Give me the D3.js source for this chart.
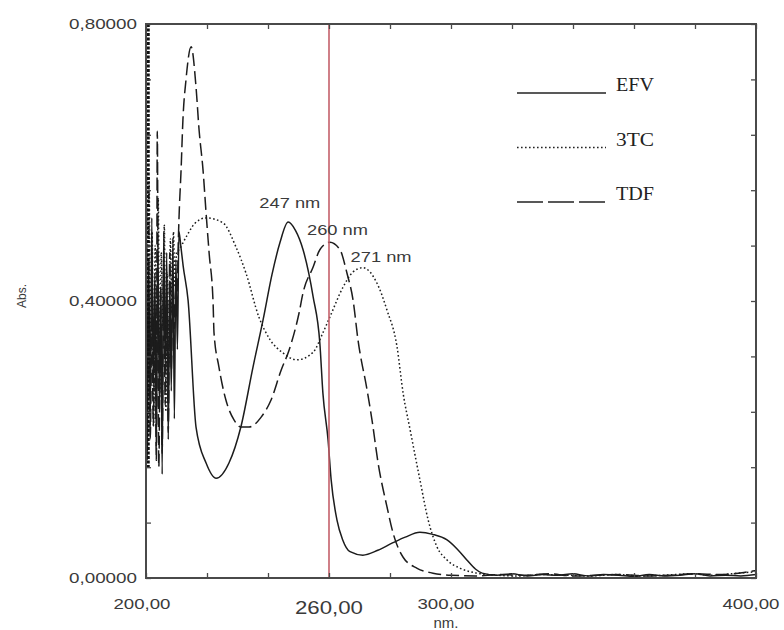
<!DOCTYPE html>
<html lang="en">
<head>
<meta charset="utf-8">
<title>UV spectra EFV / 3TC / TDF</title>
<script src="https://d3js.org/d3.v7.min.js"></script>
<style>
  body { margin: 0; background: #fff; }
  .tick-label { font-family: "Liberation Sans", Arial, sans-serif; fill: #3a3a3a; }
  .legend text { font-family: "Liberation Serif", "Times New Roman", serif; font-size: 18px; fill: #222; }
</style>
</head>
<body>
<div id="chart"></div>
<script>
// wavelength (nm) / absorbance
const efvNm = [200.0,200.4,200.9,201.4,201.9,202.4,202.9,203.4,203.9,204.4,204.9,205.3,205.8,206.3,206.8,207.3,207.8,208.3,208.8,209.3,209.8,210.3,210.8,211.4,212.2,213.8,216.4,219.7,223.0,227.2,231.1,235.1,238.4,241.3,243.9,246.6,249.0,251.5,254.8,257.0,258.0,259.7,260.7,262.6,264.5,266.9,271.1,276.0,281.0,285.0,289.8,294.0,298.7,302.0,305.2,308.0,310.2,315,320,325,330,335,340,345,350,355,360,365,370,375,380,385,390,395,400];
const efvAbs = [0.80,0.17,0.46,0.22,0.52,0.28,0.44,0.19,0.48,0.25,0.41,0.15,0.50,0.30,0.47,0.20,0.43,0.27,0.49,0.23,0.46,0.33,0.50,0.48,0.45,0.401,0.218,0.166,0.144,0.166,0.218,0.305,0.373,0.438,0.484,0.514,0.502,0.474,0.406,0.339,0.267,0.199,0.142,0.084,0.055,0.038,0.033,0.040,0.051,0.059,0.066,0.063,0.055,0.042,0.026,0.013,0.007,0.004,0.006,0.003,0.005,0.004,0.006,0.003,0.005,0.004,0.002,0.005,0.003,0.004,0.006,0.003,0.004,0.003,0.005];

const tcNm = [200.0,200.5,201.0,201.5,202.0,202.5,203.0,203.5,204.0,204.5,205.0,205.5,206.0,206.5,207.0,207.5,208.0,208.5,209.0,209.5,210.0,210.8,213.1,216.0,219.7,225.2,229.5,232.8,237.0,240.7,244.9,249.5,254.8,258.0,260.3,264.6,267.9,271.1,275.7,279.0,282.3,284.3,286.6,289.8,292.5,295.4,298.7,303.0,308.5,315,322,330,338,346,354,362,370,378,386,394,400];
const tcAbs = [0.80,0.35,0.58,0.30,0.50,0.22,0.48,0.33,0.55,0.26,0.47,0.36,0.51,0.24,0.44,0.31,0.49,0.38,0.50,0.42,0.47,0.474,0.492,0.512,0.520,0.513,0.478,0.440,0.377,0.344,0.325,0.315,0.326,0.354,0.377,0.420,0.442,0.448,0.426,0.387,0.334,0.267,0.214,0.142,0.084,0.045,0.026,0.014,0.007,0.004,0.003,0.005,0.004,0.003,0.005,0.003,0.004,0.006,0.004,0.007,0.009];

const tdfNm = [200.0,200.4,200.9,201.4,201.9,202.4,202.9,203.4,203.7,204.2,204.8,205.3,205.8,206.3,206.8,207.3,207.8,208.3,208.8,209.3,209.8,210.2,210.5,210.8,211.5,212.1,213.1,214.8,216.4,217.4,218.7,219.7,220.7,222.0,222.3,223.9,226.2,228.9,231.1,233.8,237.7,241.0,244.3,246.9,250.2,251.5,254.8,257.0,260.3,263.6,265.9,267.9,269.5,272.5,274.1,276.1,279.0,281.0,284.3,288.9,294.1,300,308,316,324,332,340,348,356,364,372,380,388,396,400];
const tdfAbs = [0.80,0.18,0.40,0.20,0.38,0.22,0.35,0.17,0.645,0.16,0.42,0.18,0.45,0.25,0.40,0.21,0.47,0.30,0.44,0.36,0.42,0.40,0.469,0.517,0.589,0.661,0.719,0.767,0.709,0.647,0.589,0.527,0.469,0.397,0.354,0.305,0.257,0.228,0.218,0.218,0.232,0.257,0.300,0.329,0.383,0.412,0.449,0.474,0.485,0.474,0.440,0.401,0.344,0.271,0.228,0.166,0.103,0.065,0.030,0.014,0.007,0.004,0.003,0.005,0.004,0.006,0.003,0.004,0.005,0.003,0.004,0.006,0.005,0.008,0.011];

// saturated noise hugging the 200 nm edge
const edgeNoise = [0.80, 0.16];

const seriesNames = ["EFV", "3TC", "TDF"];
const xTicks = d3.range(200, 401, 20);
const xLabels = [200, 300, 400];
const markerNm = 260;
const yTicks = d3.range(0, 0.801, 0.08);
const yLabels = [0, 0.4, 0.8];
const peaks = [{nm: 247, text: "247 nm"}, {nm: 260, text: "260 nm"}, {nm: 271, text: "271 nm"}];

const W = 784, H = 630;
const margin = {top: 24, right: 28, bottom: 52, left: 146};
const iw = W - margin.left - margin.right;
const ih = H - margin.top - margin.bottom;

const svg = d3.select("#chart").append("svg")
  .attr("width", W).attr("height", H);

const x = d3.scaleLinear().domain([200, 400]).range([0, iw]);
const y = d3.scaleLinear().domain([0, 0.8]).range([ih, 0]);

const g = svg.append("g").attr("transform", `translate(${margin.left},${margin.top})`);

svg.append("defs").append("clipPath").attr("id", "plotclip")
  .append("rect").attr("width", iw).attr("height", ih);

// curves
const series = [
  {name: "EFV", nm: efvNm, abs: efvAbs, dash: null},
  {name: "3TC", nm: tcNm, abs: tcAbs, dash: "1.6,2.4"},
  {name: "TDF", nm: tdfNm, abs: tdfAbs, dash: "13,5"}
];

const line = d3.line()
  .x(d => x(d[0]))
  .y(d => y(d[1]))
  .curve(d3.curveMonotoneX);

const plot = g.append("g").attr("clip-path", "url(#plotclip)");

series.forEach(s => {
  plot.append("path")
    .datum(s.nm.map((v, i) => [v, s.abs[i]]))
    .attr("fill", "none")
    .attr("stroke", "#1c1c1c")
    .attr("stroke-width", 1.5)
    .attr("stroke-dasharray", s.dash)
    .attr("d", line);
});

plot.append("line")
  .attr("x1", x(200) + 2).attr("x2", x(200) + 2)
  .attr("y1", y(edgeNoise[0])).attr("y2", y(edgeNoise[1]))
  .attr("stroke", "#111").attr("stroke-width", 3.5)
  .attr("stroke-dasharray", "3,1.5");

// red marker at 260 nm
g.append("line")
  .attr("x1", x(markerNm)).attr("x2", x(markerNm))
  .attr("y1", 0).attr("y2", ih)
  .attr("stroke", "#c4606a").attr("stroke-width", 1.6);

// frame + inward ticks
const axisColor = "#4a4a4a";
function styleAxis(sel) {
  sel.select(".domain").remove();
  sel.selectAll(".tick line").attr("stroke", axisColor).attr("stroke-width", 1.3);
}
g.append("g").attr("transform", `translate(0,${ih})`)
  .call(d3.axisBottom(x).tickValues(xTicks).tickSize(-5).tickFormat("")).call(styleAxis);
g.append("g")
  .call(d3.axisTop(x).tickValues(xTicks).tickSize(-5).tickFormat("")).call(styleAxis);
g.append("g")
  .call(d3.axisLeft(y).tickValues(yTicks).tickSize(-5).tickFormat("")).call(styleAxis);
g.append("g").attr("transform", `translate(${iw},0)`)
  .call(d3.axisRight(y).tickValues(yTicks).tickSize(-5).tickFormat("")).call(styleAxis);

g.append("rect")
  .attr("width", iw).attr("height", ih)
  .attr("fill", "none").attr("stroke", axisColor).attr("stroke-width", 2);

// tick labels (comma decimals); the scan is stretched sideways, hence textLength
const fy = v => d3.format(".5f")(v).replace(".", ",");
const fx = v => d3.format(".2f")(v).replace(".", ",");
const xLabelShift = {200: -4, 300: -5, 400: -5};

g.selectAll(".ylab").data(yLabels).join("text")
  .attr("class", "tick-label")
  .attr("x", -9).attr("y", d => y(d)).attr("dy", "0.35em")
  .attr("text-anchor", "end").attr("font-size", 15)
  .attr("textLength", 68).attr("lengthAdjust", "spacingAndGlyphs")
  .text(fy);

g.selectAll(".xlab").data(xLabels).join("text")
  .attr("class", "tick-label")
  .attr("x", d => x(d) + xLabelShift[d]).attr("y", ih + 31)
  .attr("text-anchor", "middle").attr("font-size", 15)
  .attr("textLength", 57).attr("lengthAdjust", "spacingAndGlyphs")
  .text(fx);

g.append("text").attr("class", "tick-label")
  .attr("x", x(markerNm)).attr("y", ih + 36)
  .attr("text-anchor", "middle").attr("font-size", 19)
  .attr("textLength", 68).attr("lengthAdjust", "spacingAndGlyphs")
  .text(fx(markerNm));

g.append("text").attr("class", "tick-label")
  .attr("x", x(300) - 5).attr("y", ih + 50)
  .attr("text-anchor", "middle").attr("font-size", 15)
  .text("nm.");

svg.append("text").attr("class", "tick-label")
  .attr("transform", "translate(26,296) rotate(-90)")
  .attr("text-anchor", "middle").attr("font-size", 12)
  .text("Abs.");

// peak annotations
const peakY = {247: 208, 260: 235, 271: 262};
const peakDx = {247: 30, 260: 22, 271: 12};
g.selectAll(".peak").data(peaks).join("text")
  .attr("class", "tick-label")
  .attr("x", d => x(d.nm) - peakDx[d.nm])
  .attr("y", d => peakY[d.nm] - margin.top)
  .attr("font-size", 15)
  .attr("textLength", 61).attr("lengthAdjust", "spacingAndGlyphs")
  .attr("fill", "#222")
  .text(d => d.text);

// legend
const legend = svg.append("g").attr("class", "legend").attr("transform", "translate(517,93)");
series.forEach((s, i) => {
  const row = legend.append("g").attr("transform", `translate(0,${i * 54.5})`);
  row.append("line")
    .attr("x1", 0).attr("x2", 89).attr("y1", 0).attr("y2", 0)
    .attr("stroke", "#222").attr("stroke-width", 1.4)
    .attr("stroke-dasharray", s.name === "TDF" ? "26,5" : s.dash);
  row.append("text").attr("x", 99).attr("y", -2)
    .attr("textLength", 38).attr("lengthAdjust", "spacingAndGlyphs")
    .text(seriesNames[i]);
});
</script>
</body>
</html>
